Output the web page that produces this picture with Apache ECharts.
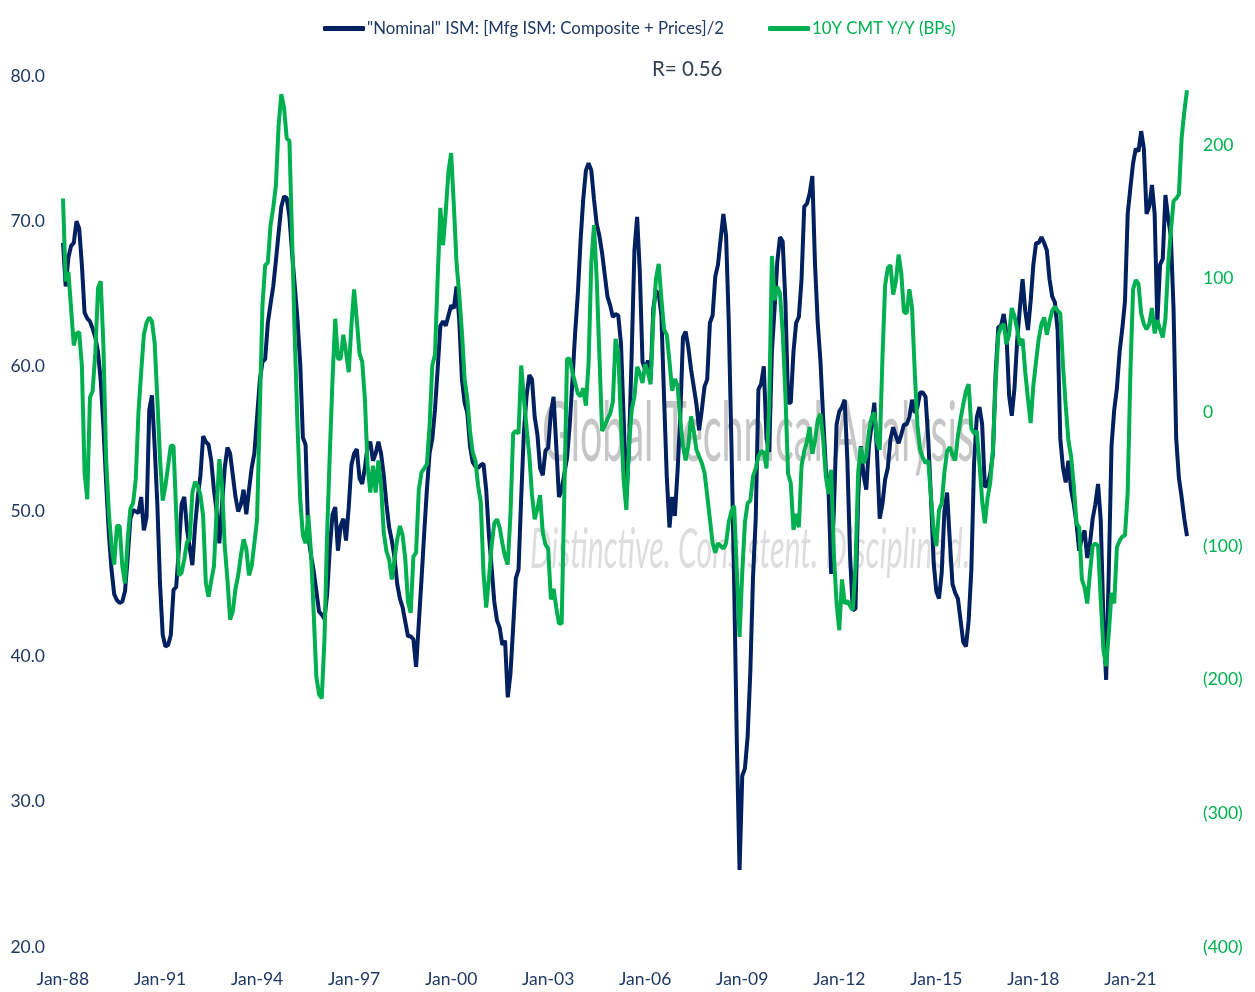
<!DOCTYPE html>
<html>
<head>
<meta charset="utf-8">
<script src="https://cdn.jsdelivr.net/npm/echarts@6/dist/echarts.min.js"></script>
<style>
html,body{margin:0;padding:0;background:#fff;}
#chart{width:1255px;height:992px;}
</style>
</head>
<body>
<div id="chart"></div>
<script>
// ---------------- DATA ----------------
const startYear = 1988;              // monthly data, Jan-88 .. Oct-22
const tickLabels = ['Jan-88','Jan-91','Jan-94','Jan-97','Jan-00','Jan-03','Jan-06','Jan-09','Jan-12','Jan-15','Jan-18','Jan-21'];
const seriesNames = ['"Nominal" ISM: [Mfg ISM: Composite + Prices]/2', '10Y CMT Y/Y (BPs)'];
const titleText = 'R= 0.56';

// "Nominal" ISM (left axis)
const ismNominal = [
 68.5,65.5,67.5,68.3,68.5,70.0,69.5,67.0,63.7,63.3,63.1,62.6, // 1988
 62.0,61.0,59.0,55.8,52.0,48.5,46.0,44.3,43.9,43.7,43.8,44.5, // 1989
 46.8,49.5,50.1,50.0,49.9,51.0,48.7,49.6,57.0,58.0,54.5,50.5, // 1990
 45.0,41.5,40.7,40.8,41.5,44.6,44.8,47.5,50.5,51.0,48.8,47.5, // 1991
 46.3,49.0,51.0,52.5,55.2,54.8,54.6,53.5,51.5,50.0,47.8,50.5, // 1992
 53.0,54.4,54.0,52.5,51.0,50.0,50.5,51.5,49.8,51.5,53.0,54.0, // 1993
 56.5,59.0,60.3,60.5,63.0,64.3,65.5,67.3,69.2,71.0,71.7,71.6, // 1994
 70.3,67.8,65.5,63.2,60.2,55.1,54.6,48.3,47.0,45.9,44.5,43.1, // 1995
 42.9,42.6,44.3,47.5,49.8,50.3,47.3,49.0,49.5,48.0,50.3,53.2, // 1996
 54.0,54.3,52.3,51.9,53.0,54.5,54.8,53.5,54.0,54.8,54.0,52.5, // 1997
 50.5,48.9,48.0,46.8,45.0,44.0,43.4,42.4,41.4,41.4,41.2,39.3, // 1998
 42.3,45.3,48.5,51.5,54.0,55.0,57.0,59.8,62.8,63.1,62.8,63.5, // 1999
 64.2,64.0,65.5,63.2,59.1,57.5,56.8,54.5,53.4,53.1,53.0,53.2, // 2000
 53.3,51.5,48.4,46.2,43.8,42.5,42.0,40.8,41.1,37.2,38.8,42.0, // 2001
 45.4,46.0,51.0,55.5,58.0,59.4,59.1,56.5,55.3,53.0,52.5,54.2, // 2002
 54.4,56.8,57.9,54.5,51.0,51.5,52.6,53.7,56.0,59.0,62.3,65.0, // 2003
 68.6,71.5,73.5,74.0,73.5,71.5,69.8,69.0,67.8,66.3,64.8,64.2, // 2004
 63.4,63.6,63.5,61.6,56.5,51.0,54.5,61.0,68.0,70.3,66.5,60.3, // 2005
 59.8,60.4,59.1,64.0,65.2,65.0,63.5,57.8,52.4,48.9,51.0,49.7, // 2006
 52.8,56.5,62.0,62.4,61.3,59.8,58.6,57.4,55.6,57.0,58.6,59.1, // 2007
 63.0,63.5,66.2,67.0,68.8,70.5,69.0,63.0,54.5,45.0,34.0,25.3, // 2008
 31.8,32.3,34.5,39.0,45.5,49.5,58.4,58.8,60.0,55.0,54.1,61.0, // 2009
 64.0,67.2,68.9,68.6,64.5,57.5,57.5,61.0,63.0,63.4,66.0,71.0, // 2010
 71.2,71.9,73.1,67.0,63.0,60.4,56.5,53.0,51.5,45.7,50.1,56.0, // 2011
 56.9,57.2,57.7,53.5,47.0,43.2,43.3,51.0,54.5,52.5,51.5,54.5, // 2012
 56.0,57.5,54.0,49.5,50.5,52.2,53.0,55.0,55.8,55.2,54.7,55.3, // 2013
 56.0,56.0,56.5,57.7,56.8,57.2,58.2,58.2,57.9,55.0,51.0,46.5, // 2014
 44.5,44.0,45.8,50.0,51.3,48.0,45.0,44.4,44.0,42.5,41.0,40.7, // 2015
 42.5,46.0,53.3,56.5,57.2,56.0,51.7,51.8,52.6,54.0,59.5,62.7, // 2016
 62.8,63.6,62.3,58.0,56.6,58.5,61.8,64.0,66.0,63.8,62.5,64.5, // 2017
 67.0,68.5,68.5,68.9,68.5,68.0,66.0,64.8,64.4,62.5,55.0,53.0, // 2018
 52.0,53.5,51.5,50.5,49.2,47.3,48.2,48.7,46.8,47.8,49.5,50.5, // 2019
 51.9,49.4,42.5,38.4,46.0,54.5,57.0,58.5,61.0,62.6,64.5,70.5, // 2020
 72.3,74.0,75.0,74.8,76.2,75.0,70.5,71.0,72.5,70.5,63.0,67.0, // 2021
 67.4,71.8,70.2,69.0,64.0,55.0,52.3,51.0,49.5,48.3            // 2022
];

// 10Y CMT year-over-year change, bps (right axis)
const cmtChange = [
 160,98,105,78,50,59,60,35,-45,-65,11,16,                    // 1988
 45,93,98,50,-35,-75,-100,-114,-85,-85,-115,-128,            // 1989
 -95,-72,-68,-50,0,30,58,67,71,68,52,10,                     // 1990
 -35,-66,-55,-40,-25,-25,-75,-122,-120,-110,-97,-95,         // 1991
 -60,-52,-55,-62,-78,-128,-138,-126,-115,-73,-35,-55,        // 1992
 -100,-125,-155,-149,-132,-122,-107,-95,-102,-122,-115,-98,  // 1993
 -80,0,80,110,112,140,153,170,215,238,228,205,               // 1994
 203,130,55,-10,-65,-92,-98,-77,-105,-150,-198,-211,         // 1995
 -214,-170,-90,-30,25,70,40,40,58,45,30,65,                  // 1996
 92,69,44,38,10,-40,-60,-40,-60,-36,-55,-90,                 // 1997
 -104,-110,-125,-110,-95,-85,-92,-110,-142,-150,-108,-105,   // 1998
 -58,-45,-42,-39,-10,35,43,100,153,125,150,180,              // 1999
 194,155,112,88,60,25,10,-14,-30,-36,-55,-67,                // 2000
 -120,-146,-125,-100,-83,-80,-86,-98,-108,-114,-77,-16,      // 2001
 -14,-16,35,10,-12,-32,-62,-80,-72,-62,-90,-99,              // 2002
 -102,-140,-132,-146,-158,-158,-60,40,40,30,22,14,           // 2003
 12,18,5,37,112,140,100,43,-14,-10,-5,-1,                    // 2004
 8,55,45,-6,-51,-73,-24,2,12,34,29,22,                       // 2005
 36,30,21,70,100,111,85,62,58,38,16,25,                      // 2006
 20,-5,-25,-36,-25,-3,-14,-28,-33,-38,-45,-62,               // 2007
 -80,-98,-105,-98,-100,-102,-98,-82,-74,-70,-120,-168,       // 2008
 -120,-82,-68,-66,-48,-42,-33,-29,-30,-42,5,117,             // 2009
 84,94,89,60,14,-46,-53,-88,-76,-86,-40,-29,                 // 2010
 -22,-11,-31,-21,-6,-1,-20,-48,-61,-43,-106,-143,            // 2011
 -163,-125,-143,-141,-145,-148,-115,-45,-26,-38,-33,-14,     // 2012
 -4,0,-22,-28,40,95,108,110,88,98,118,104,                   // 2013
 75,74,92,78,30,-10,-28,-34,-38,-36,-63,-88,                 // 2014
 -100,-73,-68,-45,-29,-26,-32,-36,-18,-5,6,16,               // 2015
 21,-12,-16,-14,-38,-66,-83,-64,-53,-28,22,58,               // 2016
 64,66,51,58,78,72,62,50,55,30,10,-8,                        // 2017
 20,38,55,66,71,58,68,76,79,76,74,35,                        // 2018
 5,-21,-33,-55,-83,-86,-125,-131,-143,-120,-100,-98,         // 2019
 -100,-140,-178,-190,-165,-135,-143,-101,-96,-93,-92,-60,    // 2020
 30,92,99,96,74,66,62,66,78,59,69,62,                        // 2021
 56,70,110,135,158,160,163,205,225,241                       // 2022
];

// month categories
const monthNames = ['Jan','Feb','Mar','Apr','May','Jun','Jul','Aug','Sep','Oct','Nov','Dec'];
const categories = ismNominal.map((_, i) => {
  const y = startYear + Math.floor(i / 12);
  return monthNames[i % 12] + '-' + String(y % 100).padStart(2, '0');
});
const tickSet = new Set(tickLabels);

// ---------------- STYLE ----------------
const FONT = 'Lato, "Open Sans", Roboto, sans-serif';
const NAVY = '#002060';
const NAVY_TXT = '#1F3864';
const GREEN = '#00B050';

// fit watermark texts to their target widths
const measureCtx = document.createElement('canvas').getContext('2d');
function fitScale(text, font, targetW) {
  measureCtx.font = font;
  const w = measureCtx.measureText(text).width;
  return w > 0 ? targetW / w : 1;
}
const wm1 = 'Global Technical Analysis';
const wm1Font = '84px ' + FONT;
const wm2 = 'Distinctive. Consistent. Disciplined.';
const wm2Font = 'italic 56px ' + FONT;

const chart = echarts.init(document.getElementById('chart'), null, {renderer: 'canvas'});
chart.setOption({
  animation: false,
  backgroundColor: '#ffffff',
  title: {
    text: titleText,
    left: 647, top: 54,
    textStyle: {fontFamily: FONT, fontSize: 20.5, fontWeight: 'normal', color: '#333F50'}
  },
  legend: {
    left: 318, top: 15,
    icon: 'roundRect',
    itemWidth: 42, itemHeight: 5,
    itemGap: 44,
    textStyle: {fontFamily: FONT, fontSize: 16.8, padding: [0,0,0,-3]},
    data: [
      {name: seriesNames[0], textStyle: {color: NAVY_TXT}},
      {name: seriesNames[1], textStyle: {color: GREEN}}
    ]
  },
  grid: {left: 63, right: 68, top: 76, bottom: 45, containLabel: false},
  xAxis: {
    type: 'category',
    data: categories,
    boundaryGap: false,
    axisLine: {show: false},
    axisTick: {show: false},
    splitLine: {show: false},
    axisLabel: {
      interval: (idx, val) => tickSet.has(val),
      margin: 23,
      fontFamily: FONT, fontSize: 17.5, color: NAVY_TXT
    }
  },
  yAxis: [
    {
      type: 'value', min: 20, max: 80, interval: 10,
      axisLine: {show: false}, axisTick: {show: false}, splitLine: {show: false},
      axisLabel: {
        formatter: v => v.toFixed(1),
        margin: 18, fontFamily: FONT, fontSize: 17.5, color: NAVY_TXT
      }
    },
    {
      type: 'value', min: -400, max: 251.6, interval: 100, position: 'right',
      axisLine: {show: false}, axisTick: {show: false}, splitLine: {show: false},
      axisLabel: {
        showMaxLabel: false,
        formatter: v => (v > 200.5 ? '' : (v < 0 ? '(' + Math.abs(v) + ')' : String(v))),
        margin: 16, fontFamily: FONT, fontSize: 17.5, color: GREEN
      }
    }
  ],
  graphic: [
    {
      type: 'text', x: 542, y: 392, scaleX: fitScale(wm1, wm1Font, 432), z: 0, silent: true,
      style: {text: wm1, font: wm1Font, fill: 'rgba(160,160,160,0.6)'}
    },
    {
      type: 'text', x: 530, y: 522, scaleX: fitScale(wm2, wm2Font, 440), z: 0, silent: true,
      style: {text: wm2, font: wm2Font, fill: 'rgba(180,180,180,0.45)'}
    }
  ],
  series: [
    {
      name: seriesNames[0], type: 'line', yAxisIndex: 0, data: ismNominal,
      symbol: 'none', smooth: false, z: 3,
      lineStyle: {color: NAVY, width: 4},
      itemStyle: {color: NAVY}
    },
    {
      name: seriesNames[1], type: 'line', yAxisIndex: 1, data: cmtChange,
      symbol: 'none', smooth: false, z: 4,
      lineStyle: {color: GREEN, width: 4},
      itemStyle: {color: GREEN}
    }
  ]
});
</script>
</body>
</html>
